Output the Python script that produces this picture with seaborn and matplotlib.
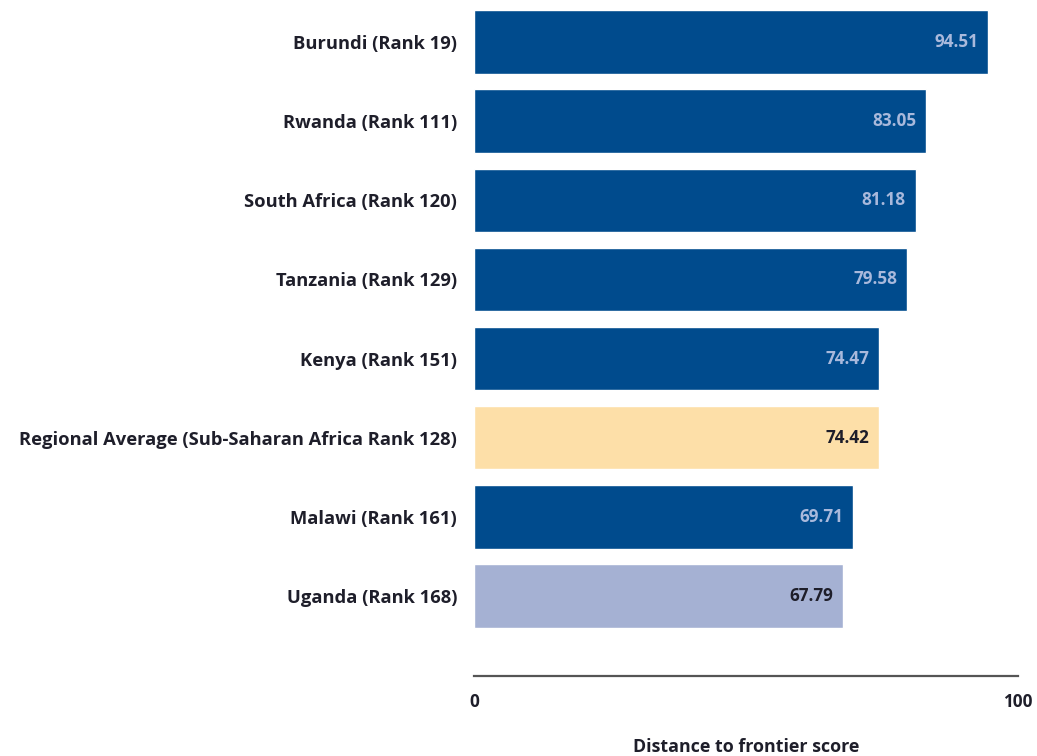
import matplotlib
matplotlib.use("Agg")
import matplotlib.pyplot as plt
import seaborn as sns
import pandas as pd

# Ease of doing business: distance to frontier scores
countries = [
    "Burundi (Rank 19)",
    "Rwanda (Rank 111)",
    "South Africa (Rank 120)",
    "Tanzania (Rank 129)",
    "Kenya (Rank 151)",
    "Regional Average (Sub-Saharan Africa Rank 128)",
    "Malawi (Rank 161)",
    "Uganda (Rank 168)",
]
scores = [94.51, 83.05, 81.18, 79.58, 74.47, 74.42, 69.71, 67.79]
bar_colors = ["#004B8D", "#004B8D", "#004B8D", "#004B8D", "#004B8D",
              "#FDDFA8", "#004B8D", "#A5B1D3"]
label_colors = ["#A9B9DC", "#A9B9DC", "#A9B9DC", "#A9B9DC", "#A9B9DC",
                "#1E1E2A", "#A9B9DC", "#1E1E2A"]
x_ticks = [0, 100]
x_title = "Distance to frontier score"

df = pd.DataFrame({"country": countries, "score": scores})

sns.set_style("white")
plt.rcParams["font.family"] = ["Open Sans", "DejaVu Sans"]

fig = plt.figure(figsize=(10.37, 7.56), dpi=100)
ax = fig.add_axes([0.457, 0.1058, 0.5247, 0.891])

sns.barplot(data=df, x="score", y="country", hue="country",
            palette=bar_colors, legend=False, width=0.8,
            saturation=1, ax=ax)

ax.set_xlim(0, 100)
ax.set_ylim(8.01, -0.5)

for patch, val, col in zip(ax.patches, scores, label_colors):
    yc = patch.get_y() + patch.get_height() / 2
    ax.annotate(f"{val:.2f}", xy=(val, yc), xytext=(-7, 0),
                textcoords="offset points", ha="right", va="center",
                fontsize=12.3, fontweight="bold", color=col)

ax.set_xticks(x_ticks)
ax.set_xticklabels([str(t) for t in x_ticks], fontsize=12.3,
                   fontweight="bold", color="#1E1E2A")
ax.tick_params(axis="x", length=0, pad=12)
ax.tick_params(axis="y", length=0, pad=12, labelsize=13.2,
               labelcolor="#1E1E2A")
for lbl in ax.get_yticklabels():
    lbl.set_fontweight("bold")

ax.set_xlabel(x_title, fontsize=12.9, fontweight="bold",
              color="#1E1E2A", labelpad=20)
ax.set_ylabel("")

for side in ["top", "right", "left"]:
    ax.spines[side].set_visible(False)
ax.spines["bottom"].set_color("#555555")
ax.spines["bottom"].set_linewidth(1.6)

fig.savefig("out.png", dpi=100)
